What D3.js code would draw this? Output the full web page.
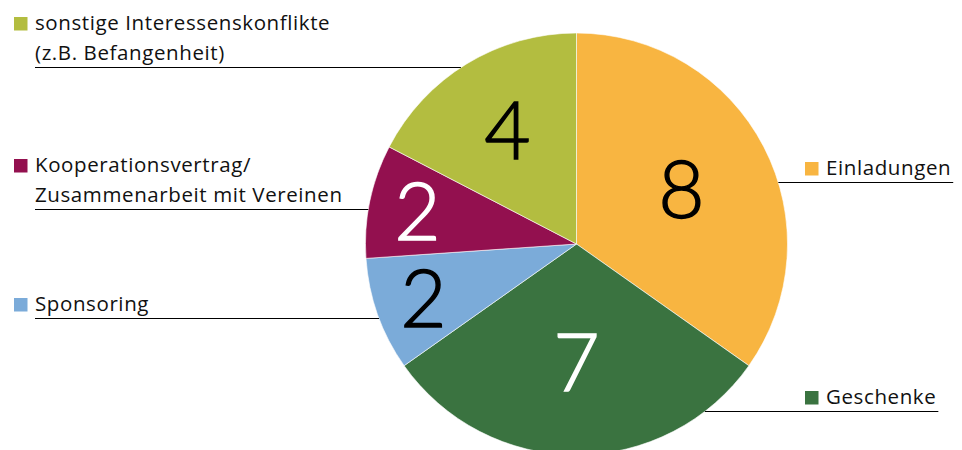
<!DOCTYPE html>
<html>
<head>
<meta charset="utf-8">
<script src="https://cdn.jsdelivr.net/npm/d3@7"></script>
<style>
  body { margin: 0; background: #fff; }
  svg { display: block; }
</style>
</head>
<body>
<div id="chart"></div>
<script>
// data, clockwise from 12 o'clock
const categories = ["Einladungen", "Geschenke", "Sponsoring", "Kooperationsvertrag/\nZusammenarbeit mit Vereinen", "sonstige Interessenskonflikte\n(z.B. Befangenheit)"];
const values = [8, 7, 2, 2, 4];
const colors = ["#F8B541", "#3A7340", "#7BABD9", "#93104F", "#B3BD40"];
const valueColors = ["#000", "#fff", "#000", "#fff", "#000"];

// legend layout: side and y of the underline for each category
const legendSide = ["right", "right", "left", "left", "left"];
const legendLineY = [182.5, 411.5, 318.5, 209.5, 67.5];

var width = 962, height = 450;
var cx = 576.5, cy = 244, radius = 211;

const svg = d3.select('#chart')
    .append("svg")
    .attr("width", width)
    .attr("height", height);

var pie = d3.pie().sort(null).value(d => d);
var arcs = pie(values);

var arc = d3.arc().innerRadius(0).outerRadius(radius);

var g = svg.append("g")
    .attr("transform", "translate(" + cx + "," + cy + ")");

g.selectAll("path")
    .data(arcs)
    .enter()
    .append("path")
    .attr("d", arc)
    .attr("fill", (d, i) => colors[i])
    .attr("stroke", "#fff")
    .attr("stroke-width", 0.6);

// value labels - small slices get pushed further out
function labelRadius(d) {
    const a = d.endAngle - d.startAngle;
    if (a > 1.8) return radius * 0.56;
    if (a > 0.8) return radius * 0.63;
    return radius * 0.77;
}

g.selectAll("text.value")
    .data(arcs)
    .enter()
    .append("text")
    .attr("class", "value")
    .attr("x", d => Math.sin((d.startAngle + d.endAngle) / 2) * labelRadius(d))
    .attr("y", d => -Math.cos((d.startAngle + d.endAngle) / 2) * labelRadius(d))
    .attr("dy", "0.36em")
    .attr("text-anchor", "middle")
    .style("font-family", "Lato, 'Open Sans', sans-serif")
    .style("font-weight", 300)
    .style("font-size", "80px")
    .attr("fill", (d, i) => valueColors[i])
    .attr("stroke", (d, i) => valueColors[i])
    .attr("stroke-width", 1.4)
    .text(d => d.data);

// legend entries with underline running to the pie edge
var font = "'Open Sans', sans-serif";
categories.forEach(function(name, i) {
    const lines = name.split("\n");
    const ly = legendLineY[i];
    const dy = ly - cy;
    const edge = Math.sqrt(radius * radius - dy * dy);
    const lg = svg.append("g");

    const lastBase = ly - 7.5;
    const firstBase = lastBase - (lines.length - 1) * 30;
    const textX = legendSide[i] == "left" ? 35 : 826;

    lg.append("rect")
        .attr("x", textX - 21)
        .attr("y", firstBase - 13)
        .attr("width", 13.5)
        .attr("height", 13.5)
        .attr("fill", colors[i]);

    const t = lg.append("text")
        .style("font-family", font)
        .style("font-size", "20.5px")
        .style("letter-spacing", "0.6px")
        .attr("fill", "#111");
    lines.forEach(function(l, k) {
        t.append("tspan")
            .attr("x", textX)
            .attr("y", firstBase + k * 30)
            .text(l);
    });

    let x1, x2;
    if (legendSide[i] == "left") {
        x1 = 35;
        x2 = cx - edge;
    } else {
        x1 = cx + edge;
        x2 = textX + t.node().getComputedTextLength() + 2;
    }
    lg.append("line")
        .attr("x1", x1)
        .attr("x2", x2)
        .attr("y1", ly)
        .attr("y2", ly)
        .attr("stroke", "#000")
        .attr("stroke-width", 1);
});
</script>
</body>
</html>
